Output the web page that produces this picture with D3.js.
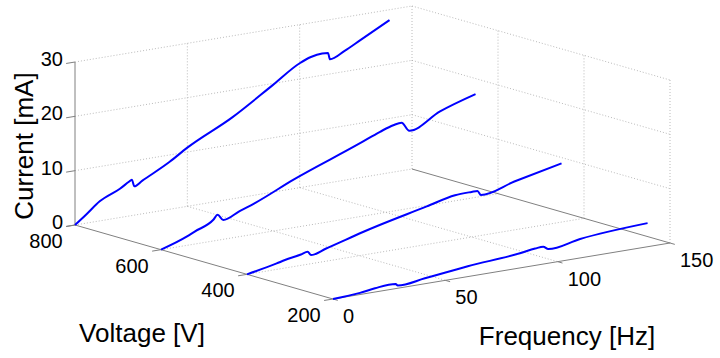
<!DOCTYPE html>
<html>
<head>
<meta charset="utf-8">
<script src="https://cdn.jsdelivr.net/npm/d3@7"></script>
<style>
  body { margin: 0; background: #fff; }
  svg text { font-family: "Liberation Sans", Arial, sans-serif; fill: #000; }
</style>
</head>
<body>
<svg id="chart" width="720" height="358"></svg>
<script>
// one curve per supply voltage: current vs frequency
const voltages = [800, 600, 400, 200];

const freq800 = [0, 5, 11, 20, 24, 25.3, 26.4, 30, 42, 50, 70, 88, 100, 105, 110, 112.6, 113.5, 120, 127, 140];
const curr800 = [0, 1.6, 3.6, 5.3, 6.3, 6.6, 5.3, 6.1, 8.7, 10.8, 15.0, 19.7, 22.9, 23.7, 24.0, 23.9, 22.7, 23.8, 25.3, 28.1];

const freq600 = [0, 11.4, 15, 23.3, 25.2, 27.7, 35, 41.8, 58.8, 88.6, 97.5, 103.4, 107.1, 110.5, 124.2, 140];
const curr600 = [0, 1.6, 2.3, 3.9, 4.7, 3.55, 4.7, 5.7, 8.8, 13.5, 15.0, 15.8, 16.0, 14.3, 16.9, 19.0];

const freq400 = [0, 13.2, 16.9, 24, 27.0, 28.5, 35, 43.6, 50.3, 80, 92.6, 100, 102.6, 104.1, 119, 140];
const curr400 = [0, 1.1, 1.47, 2.0, 2.3, 1.6, 2.3, 3.3, 4.1, 7.0, 8.2, 8.3, 8.3, 7.45, 8.9, 10.8];

const freq200 = [0, 12, 18.7, 27.9, 28.8, 40.9, 60, 83.2, 90, 93.6, 95.8, 110, 140];
const curr200 = [0, 0.3, 0.7, 0.85, 0.5, 1.0, 1.9, 2.7, 3.1, 3.2, 2.6, 3.5, 4.35];

const freqTicks = [0, 50, 100, 150];
const voltTicks = [800, 600, 400, 200];
const currTicks = [0, 10, 20, 30];

const series = [
  { v: voltages[0], f: freq800, i: curr800 },
  { v: voltages[1], f: freq600, i: curr600 },
  { v: voltages[2], f: freq400, i: curr400 },
  { v: voltages[3], f: freq200, i: curr200 }
];

const svg = d3.select('#chart');

// orthographic projection, box corner at (f=0, V=800, I=0)
const origin = [75, 225];
const fVec = [337, -56];
const vVec = [258, 74];
const iVec = [0, -163];

const fScale = d3.scaleLinear().domain([0, 150]).range([0, 1]);
const vScale = d3.scaleLinear().domain([800, 200]).range([0, 1]);
const iScale = d3.scaleLinear().domain([0, 30]).range([0, 1]);

function proj(f, v, i) {
  const a = fScale(f), b = vScale(v), c = iScale(i);
  return [
    origin[0] + a * fVec[0] + b * vVec[0] + c * iVec[0],
    origin[1] + a * fVec[1] + b * vVec[1] + c * iVec[1]
  ];
}

function seg(p, q, cls) {
  svg.append('line')
    .attr('class', cls)
    .attr('x1', p[0]).attr('y1', p[1])
    .attr('x2', q[0]).attr('y2', q[1]);
}

const fMax = 150, vFar = 800, vNear = 200, iMax = 30;

// back wall (V = 800)
freqTicks.slice(1).forEach(f => seg(proj(f, vFar, 0), proj(f, vFar, iMax), 'grid'));
currTicks.forEach(i => seg(proj(0, vFar, i), proj(fMax, vFar, i), 'grid'));
// side wall (f = 150)
voltTicks.slice(1).forEach(v => seg(proj(fMax, v, 0), proj(fMax, v, iMax), 'grid'));
currTicks.slice(1).forEach(i => seg(proj(fMax, vFar, i), proj(fMax, vNear, i), 'grid'));
// floor
freqTicks.slice(1, 3).forEach(f => seg(proj(f, vFar, 0), proj(f, vNear, 0), 'grid'));
voltTicks.slice(1, 3).forEach(v => seg(proj(0, v, 0), proj(fMax, v, 0), 'grid'));

svg.selectAll('line.grid')
  .attr('stroke', '#a8a8a8')
  .attr('stroke-width', 0.8)
  .attr('stroke-dasharray', '1,2');

// axis lines
seg(proj(0, vFar, 0), proj(0, vFar, iMax), 'axis');
seg(proj(0, vFar, 0), proj(0, vNear, 0), 'axis');
seg(proj(0, vNear, 0), proj(fMax, vNear, 0), 'axis');
seg(proj(fMax, vFar, 0), proj(fMax, vNear, 0), 'axis');

// ticks
const tickLen = 9;
const fDir = [-fVec[0] / Math.hypot(...fVec), -fVec[1] / Math.hypot(...fVec)];
const vDir = [vVec[0] / Math.hypot(...vVec), vVec[1] / Math.hypot(...vVec)];
currTicks.forEach(i => {
  const p = proj(0, vFar, i);
  seg(p, [p[0] + fDir[0] * tickLen, p[1] + fDir[1] * tickLen], 'axis');
});
voltTicks.forEach(v => {
  const p = proj(0, v, 0);
  seg(p, [p[0] + fDir[0] * tickLen, p[1] + fDir[1] * tickLen], 'axis');
});
freqTicks.forEach(f => {
  const p = proj(f, vNear, 0);
  seg(p, [p[0] + vDir[0] * 5, p[1] + vDir[1] * 5], 'axis');
});

svg.selectAll('line.axis')
  .attr('stroke', '#808080')
  .attr('stroke-width', 1);

// curves (x of projection grows with f, so monotoneX smooths without overshoot)
const line = d3.line().x(d => d[0]).y(d => d[1]).curve(d3.curveMonotoneX);
series.forEach(s => {
  const pts = s.f.map((f, k) => proj(f, s.v, s.i[k]));
  svg.append('path')
    .attr('d', line(pts))
    .attr('fill', 'none')
    .attr('stroke', '#0000ff')
    .attr('stroke-width', 2)
    .attr('stroke-linejoin', 'round');
});

// tick labels
currTicks.forEach(i => {
  const p = proj(0, vFar, i);
  svg.append('text')
    .attr('x', p[0] - 12).attr('y', p[1] - 3)
    .attr('text-anchor', 'end')
    .attr('dominant-baseline', 'central')
    .attr('font-size', 20)
    .text(i);
});
voltTicks.forEach(v => {
  const p = proj(0, v, 0);
  svg.append('text')
    .attr('x', p[0] - 29).attr('y', p[1] + 16)
    .attr('text-anchor', 'middle')
    .attr('dominant-baseline', 'central')
    .attr('font-size', 20)
    .text(v);
});
freqTicks.forEach(f => {
  const p = proj(f, vNear, 0);
  svg.append('text')
    .attr('x', p[0] + 10).attr('y', p[1] + 17)
    .attr('text-anchor', 'start')
    .attr('dominant-baseline', 'central')
    .attr('font-size', 20)
    .text(f);
});

// axis titles
svg.append('text')
  .attr('transform', 'translate(33,146) rotate(-90)')
  .attr('text-anchor', 'middle')
  .attr('font-size', 26)
  .text('Current [mA]');
svg.append('text')
  .attr('x', 142).attr('y', 342)
  .attr('text-anchor', 'middle')
  .attr('font-size', 26)
  .text('Voltage [V]');
svg.append('text')
  .attr('x', 567).attr('y', 345)
  .attr('text-anchor', 'middle')
  .attr('font-size', 26)
  .text('Frequency [Hz]');
</script>
</body>
</html>
